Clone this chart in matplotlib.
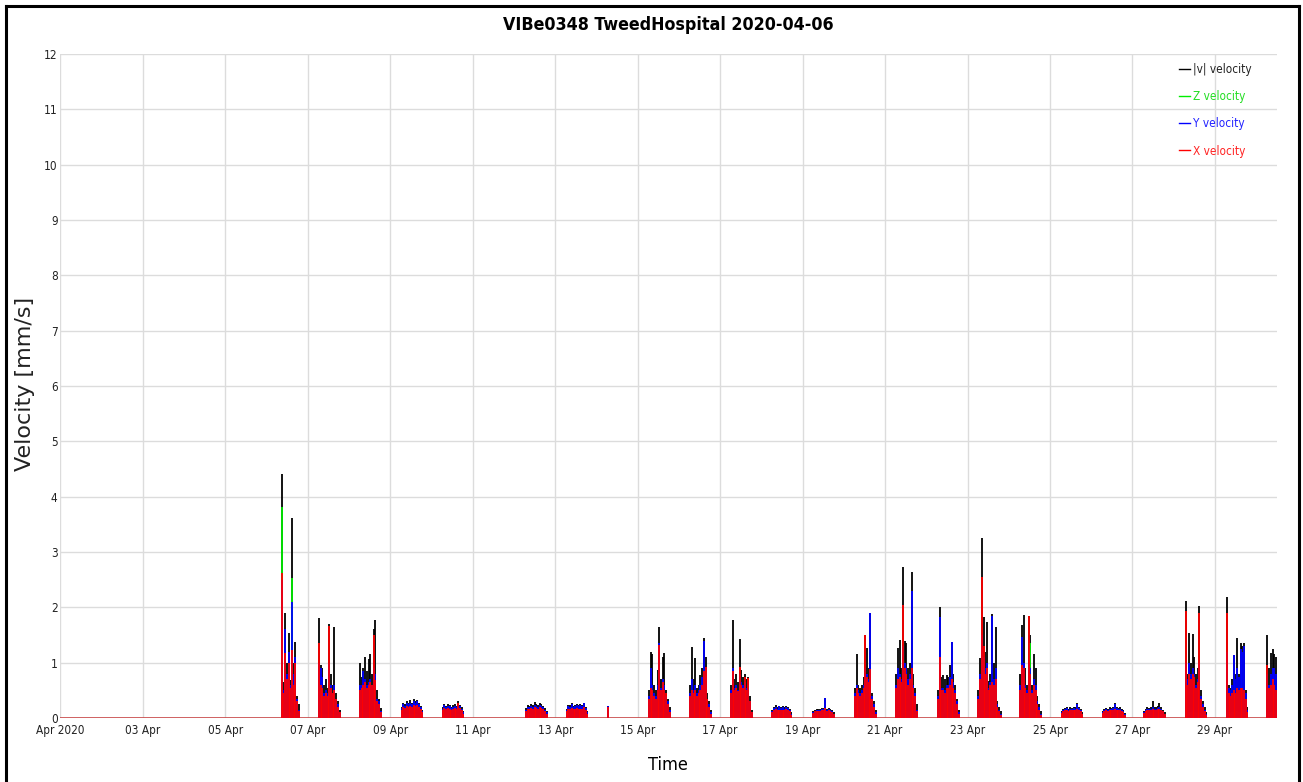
import numpy as np
import pandas as pd
import matplotlib
matplotlib.use('Agg')
import matplotlib.pyplot as plt
import matplotlib.dates as mdates
from matplotlib.lines import Line2D
from matplotlib import font_manager

# start of each working-day burst; one peak reading per hour from there on
starts = ['2020-04-06 08:48', '2020-04-07 06:30', '2020-04-08 06:24', '2020-04-09 06:40',
          '2020-04-10 06:30', '2020-04-12 07:00', '2020-04-13 06:42', '2020-04-14 06:54',
          '2020-04-15 06:36', '2020-04-16 06:30', '2020-04-17 06:18', '2020-04-18 06:24',
          '2020-04-19 06:12', '2020-04-20 06:30', '2020-04-21 06:24', '2020-04-22 06:48',
          '2020-04-23 06:18', '2020-04-24 06:36', '2020-04-25 06:48', '2020-04-26 06:42',
          '2020-04-27 06:42', '2020-04-28 07:00', '2020-04-29 06:54', '2020-04-30 06:30']

v_abs = [
    [4.41, 0.65, 1.9, 1.0, 1.53, 0.68, 3.62, 1.0, 1.38, 0.4, 0.25],
    [1.8, 0.95, 0.9, 0.6, 0.7, 0.55, 1.7, 0.8, 0.6, 1.65, 0.45, 0.3, 0.15],
    [0.99, 0.75, 0.9, 1.1, 0.85, 1.07, 1.16, 0.8, 1.6, 1.77, 0.5, 0.35, 0.18],
    [0.2, 0.28, 0.25, 0.3, 0.27, 0.32, 0.28, 0.35, 0.3, 0.33, 0.27, 0.22, 0.15],
    [0.2, 0.25, 0.22, 0.26, 0.24, 0.2, 0.23, 0.25, 0.22, 0.3, 0.24, 0.2, 0.12],
    [0.18, 0.24, 0.22, 0.26, 0.24, 0.29, 0.26, 0.24, 0.27, 0.25, 0.22, 0.18, 0.12],
    [0.17, 0.24, 0.23, 0.27, 0.22, 0.24, 0.26, 0.23, 0.25, 0.24, 0.28, 0.2, 0.12],
    [0.22],
    [0.5, 1.19, 1.15, 0.6, 0.5, 0.87, 1.64, 0.7, 1.1, 1.17, 0.5, 0.35, 0.2],
    [0.6, 1.28, 0.7, 1.08, 0.55, 0.6, 0.78, 0.9, 1.44, 1.1, 0.45, 0.3, 0.15],
    [0.6, 1.78, 0.7, 0.8, 0.65, 1.42, 0.87, 0.75, 0.8, 0.7, 0.74, 0.4, 0.15],
    [0.14, 0.2, 0.23, 0.19, 0.22, 0.2, 0.21, 0.19, 0.22, 0.2, 0.16, 0.1],
    [0.12, 0.15, 0.17, 0.16, 0.17, 0.18, 0.18, 0.36, 0.17, 0.18, 0.16, 0.14, 0.1],
    [0.55, 1.15, 0.6, 0.55, 0.6, 0.75, 1.5, 1.26, 0.9, 1.9, 0.45, 0.3, 0.15],
    [0.8, 1.26, 1.41, 0.9, 2.72, 1.4, 1.35, 0.9, 1.0, 2.64, 0.8, 0.55, 0.25],
    [0.5, 2.01, 0.75, 0.78, 0.7, 0.78, 0.75, 0.95, 1.38, 0.8, 0.6, 0.35, 0.15],
    [0.5, 1.08, 3.25, 1.83, 1.2, 1.74, 0.66, 0.8, 1.88, 1.0, 1.64, 0.3, 0.2, 0.12],
    [0.8, 1.68, 1.86, 0.9, 0.6, 1.84, 1.5, 0.6, 1.16, 0.9, 0.4, 0.25, 0.12],
    [0.12, 0.17, 0.18, 0.2, 0.17, 0.19, 0.18, 0.2, 0.19, 0.27, 0.2, 0.16, 0.1],
    [0.12, 0.16, 0.18, 0.17, 0.19, 0.18, 0.2, 0.27, 0.2, 0.18, 0.19, 0.17, 0.14, 0.09],
    [0.12, 0.16, 0.2, 0.18, 0.2, 0.3, 0.2, 0.19, 0.21, 0.27, 0.2, 0.15, 0.1],
    [2.11, 0.8, 1.53, 1.0, 1.51, 1.1, 0.8, 0.9, 2.02, 0.5, 0.3, 0.2, 0.1],
    [2.19, 0.6, 0.55, 0.7, 1.14, 0.8, 1.44, 0.8, 1.35, 1.3, 1.35, 0.5, 0.2],
    [1.5, 0.9, 1.18, 1.24, 1.15, 1.1],
]

z_vel = [
    [3.82, 0.1, 0.12, 0.1, 0.1, 0.1, 2.53, 0.1, 0.1, 0.08, 0.05],
    [0.1, 0.08, 0.08, 0.07, 0.07, 0.07, 0.08, 0.08, 0.07, 0.07, 0.06, 0.05, 0.04],
    [0.1, 0.12, 0.1, 0.1, 0.1, 0.1, 0.12, 0.1, 0.1, 0.1, 0.08, 0.06, 0.05],
    [0.05, 0.07, 0.06, 0.07, 0.07, 0.08, 0.07, 0.08, 0.07, 0.07, 0.06, 0.05, 0.04],
    [0.05, 0.06, 0.06, 0.07, 0.06, 0.06, 0.06, 0.07, 0.06, 0.07, 0.06, 0.05, 0.03],
    [0.05, 0.06, 0.06, 0.07, 0.06, 0.07, 0.06, 0.06, 0.07, 0.06, 0.06, 0.05, 0.03],
    [0.05, 0.06, 0.06, 0.07, 0.06, 0.06, 0.07, 0.06, 0.06, 0.06, 0.07, 0.05, 0.03],
    [0.05],
    [0.08, 0.1, 0.12, 0.1, 0.1, 0.12, 0.12, 0.1, 0.1, 0.1, 0.08, 0.06, 0.04],
    [0.08, 0.1, 0.1, 0.1, 0.09, 0.1, 0.1, 0.11, 0.12, 0.1, 0.08, 0.06, 0.04],
    [0.08, 0.12, 0.1, 0.1, 0.09, 0.11, 0.1, 0.1, 0.1, 0.09, 0.09, 0.06, 0.04],
    [0.04, 0.05, 0.06, 0.05, 0.06, 0.05, 0.06, 0.05, 0.06, 0.05, 0.04, 0.03],
    [0.04, 0.05, 0.05, 0.05, 0.05, 0.05, 0.06, 0.05, 0.05, 0.05, 0.05, 0.04, 0.03],
    [0.08, 0.1, 0.1, 0.09, 0.1, 0.1, 0.12, 0.11, 0.1, 0.12, 0.08, 0.06, 0.04],
    [0.1, 0.12, 0.12, 0.1, 0.14, 0.12, 0.12, 0.1, 0.12, 0.14, 0.1, 0.08, 0.05],
    [0.08, 0.12, 0.1, 0.1, 0.4, 0.1, 0.1, 0.1, 0.12, 0.1, 0.08, 0.06, 0.04],
    [0.08, 0.12, 0.14, 0.12, 0.1, 0.12, 0.1, 0.1, 0.12, 0.1, 0.1, 0.06, 0.05, 0.03],
    [0.08, 0.1, 0.1, 0.1, 0.08, 0.1, 1.35, 0.1, 0.1, 0.08, 0.06, 0.05, 0.04],
    [0.04, 0.05, 0.05, 0.06, 0.05, 0.05, 0.05, 0.06, 0.05, 0.06, 0.05, 0.04, 0.03],
    [0.04, 0.05, 0.05, 0.05, 0.05, 0.05, 0.06, 0.06, 0.05, 0.05, 0.05, 0.05, 0.04, 0.03],
    [0.04, 0.05, 0.06, 0.05, 0.06, 0.06, 0.05, 0.05, 0.06, 0.06, 0.05, 0.04, 0.03],
    [0.1, 0.08, 0.1, 0.1, 0.12, 0.1, 0.1, 0.1, 0.12, 0.08, 0.06, 0.05, 0.04],
    [0.1, 0.08, 0.08, 0.1, 0.1, 0.1, 0.12, 0.1, 0.1, 0.12, 0.1, 0.06, 0.04],
    [0.1, 0.08, 0.1, 0.1, 0.12, 0.1],
]

y_vel = [
    [2.5, 0.5, 1.6, 0.8, 1.2, 0.6, 2.1, 0.8, 1.1, 0.35, 0.15],
    [1.0, 0.9, 0.75, 0.45, 0.5, 0.45, 1.0, 0.6, 0.45, 0.6, 0.35, 0.25, 0.1],
    [0.6, 0.6, 0.85, 0.7, 0.6, 0.65, 0.7, 0.6, 0.9, 0.8, 0.35, 0.3, 0.12],
    [0.18, 0.25, 0.22, 0.27, 0.25, 0.28, 0.26, 0.3, 0.27, 0.3, 0.25, 0.2, 0.12],
    [0.17, 0.23, 0.2, 0.22, 0.21, 0.18, 0.2, 0.22, 0.2, 0.24, 0.22, 0.17, 0.1],
    [0.15, 0.2, 0.19, 0.22, 0.2, 0.24, 0.22, 0.2, 0.23, 0.22, 0.19, 0.15, 0.1],
    [0.15, 0.22, 0.2, 0.26, 0.2, 0.22, 0.24, 0.21, 0.23, 0.22, 0.27, 0.18, 0.1],
    [0.22],
    [0.4, 0.9, 0.6, 0.45, 0.4, 0.6, 1.35, 0.55, 0.7, 0.6, 0.4, 0.3, 0.15],
    [0.45, 0.7, 0.5, 0.6, 0.45, 0.5, 0.6, 0.75, 1.4, 0.9, 0.35, 0.25, 0.1],
    [0.5, 0.9, 0.55, 0.6, 0.5, 0.8, 0.65, 0.6, 0.65, 0.55, 0.6, 0.3, 0.1],
    [0.12, 0.18, 0.2, 0.17, 0.21, 0.18, 0.2, 0.17, 0.2, 0.18, 0.14, 0.08],
    [0.1, 0.13, 0.15, 0.14, 0.15, 0.16, 0.16, 0.36, 0.15, 0.16, 0.14, 0.12, 0.08],
    [0.45, 0.6, 0.5, 0.45, 0.5, 0.6, 0.9, 0.8, 0.7, 1.9, 0.4, 0.25, 0.1],
    [0.6, 0.9, 0.8, 0.7, 1.3, 1.0, 0.9, 0.7, 0.8, 2.3, 0.6, 0.45, 0.15],
    [0.4, 1.83, 0.55, 0.55, 0.5, 0.6, 0.6, 0.75, 1.38, 0.65, 0.5, 0.3, 0.1],
    [0.4, 0.8, 1.5, 1.1, 0.9, 1.0, 0.55, 0.65, 1.85, 0.7, 0.9, 0.25, 0.15, 0.08],
    [0.6, 1.47, 1.0, 0.6, 0.5, 1.0, 0.9, 0.5, 0.7, 0.6, 0.3, 0.2, 0.08],
    [0.1, 0.15, 0.16, 0.18, 0.15, 0.17, 0.16, 0.18, 0.17, 0.26, 0.18, 0.14, 0.08],
    [0.1, 0.14, 0.16, 0.15, 0.17, 0.16, 0.18, 0.26, 0.18, 0.16, 0.17, 0.15, 0.12, 0.07],
    [0.1, 0.14, 0.17, 0.16, 0.17, 0.2, 0.17, 0.17, 0.18, 0.2, 0.17, 0.13, 0.08],
    [1.0, 0.7, 1.0, 0.8, 0.9, 0.8, 0.6, 0.7, 1.0, 0.4, 0.25, 0.15, 0.08],
    [1.2, 0.55, 0.5, 0.6, 1.14, 0.7, 0.9, 0.75, 1.25, 1.2, 1.3, 0.45, 0.15],
    [0.8, 0.6, 0.8, 0.9, 0.9, 0.8],
]

x_vel = [
    [2.62, 0.45, 1.17, 0.7, 1.0, 0.55, 1.23, 0.6, 1.0, 0.3, 0.12],
    [1.35, 0.6, 0.55, 0.4, 0.45, 0.4, 1.67, 0.55, 0.45, 0.5, 0.35, 0.2, 0.1],
    [0.5, 0.55, 0.6, 0.65, 0.55, 0.6, 0.65, 0.6, 1.5, 0.68, 0.3, 0.25, 0.1],
    [0.15, 0.2, 0.18, 0.22, 0.2, 0.22, 0.2, 0.24, 0.22, 0.23, 0.2, 0.16, 0.1],
    [0.14, 0.18, 0.17, 0.18, 0.17, 0.15, 0.17, 0.18, 0.17, 0.28, 0.18, 0.14, 0.08],
    [0.13, 0.17, 0.16, 0.18, 0.17, 0.2, 0.18, 0.17, 0.19, 0.18, 0.16, 0.13, 0.08],
    [0.12, 0.17, 0.16, 0.18, 0.16, 0.17, 0.18, 0.16, 0.17, 0.17, 0.19, 0.14, 0.08],
    [0.2],
    [0.35, 0.55, 0.5, 0.4, 0.35, 0.5, 1.32, 0.5, 0.65, 0.5, 0.45, 0.25, 0.1],
    [0.4, 0.5, 0.45, 0.5, 0.4, 0.45, 0.5, 0.6, 0.85, 0.93, 0.35, 0.2, 0.08],
    [0.45, 0.85, 0.5, 0.55, 0.48, 0.93, 0.6, 0.55, 0.75, 0.5, 0.72, 0.3, 0.1],
    [0.1, 0.15, 0.16, 0.14, 0.15, 0.15, 0.15, 0.14, 0.16, 0.15, 0.12, 0.06],
    [0.09, 0.12, 0.13, 0.13, 0.13, 0.14, 0.14, 0.18, 0.13, 0.14, 0.13, 0.11, 0.07],
    [0.4, 0.55, 0.45, 0.4, 0.45, 0.55, 1.5, 0.75, 0.65, 0.88, 0.35, 0.2, 0.08],
    [0.55, 0.7, 0.75, 0.65, 2.04, 0.9, 0.8, 0.6, 0.7, 0.9, 0.55, 0.4, 0.12],
    [0.35, 1.1, 0.5, 0.5, 0.45, 0.55, 0.55, 0.6, 0.7, 0.55, 0.45, 0.25, 0.08],
    [0.35, 0.7, 2.55, 1.3, 0.8, 0.9, 0.5, 0.6, 0.65, 0.6, 0.7, 0.2, 0.12, 0.06],
    [0.5, 0.95, 0.9, 0.55, 0.45, 1.84, 0.8, 0.45, 0.6, 0.5, 0.25, 0.15, 0.06],
    [0.09, 0.13, 0.14, 0.15, 0.13, 0.14, 0.14, 0.15, 0.14, 0.16, 0.15, 0.12, 0.07],
    [0.09, 0.12, 0.14, 0.13, 0.14, 0.14, 0.15, 0.17, 0.15, 0.14, 0.14, 0.13, 0.11, 0.06],
    [0.09, 0.13, 0.15, 0.14, 0.15, 0.17, 0.15, 0.14, 0.16, 0.16, 0.15, 0.12, 0.07],
    [1.93, 0.6, 0.8, 0.7, 0.8, 0.75, 0.55, 0.65, 1.9, 0.35, 0.2, 0.12, 0.06],
    [1.9, 0.45, 0.4, 0.45, 0.5, 0.45, 0.55, 0.5, 0.55, 0.55, 0.5, 0.35, 0.1],
    [0.95, 0.55, 0.6, 0.7, 0.6, 0.5],
]

tick_days = ['2020-04-01', '2020-04-03', '2020-04-05', '2020-04-07', '2020-04-09',
             '2020-04-11', '2020-04-13', '2020-04-15', '2020-04-17', '2020-04-19',
             '2020-04-21', '2020-04-23', '2020-04-25', '2020-04-27', '2020-04-29']
tick_labels = ['Apr 2020', '03 Apr', '05 Apr', '07 Apr', '09 Apr', '11 Apr', '13 Apr',
               '15 Apr', '17 Apr', '19 Apr', '21 Apr', '23 Apr', '25 Apr', '27 Apr', '29 Apr']
t_first = '2020-04-01 00:00'
t_last = '2020-04-30 12:00'

names = ['|v| velocity', 'Z velocity', 'Y velocity', 'X velocity']
colors = ['#000000', '#00ee00', '#0000ff', '#ff0000']
series = [v_abs, z_vel, y_vel, x_vel]


# the screenshot is squeezed sideways, so a condensed face fits the flat text best
def narrow_font():
    fonts = font_manager.fontManager.ttflist
    for want in ['Liberation Sans Narrow', 'DejaVu Sans', 'Roboto Condensed', 'Open Sans']:
        for f in fonts:
            if f.name == want and (f.stretch in ('condensed', 'semi-condensed', 'extra-condensed')
                                   or 'Condensed' in f.fname or 'Narrow' in f.fname):
                return {'family': f.name, 'stretch': f.stretch if f.stretch != 'normal' else 'condensed'}
    return {'family': 'DejaVu Sans', 'stretch': 'normal'}


nf = narrow_font()
cond_scale = 1.0 if nf['stretch'] != 'normal' else 0.85


def burst_times(i):
    n = len(v_abs[i])
    for s in series:
        assert len(s[i]) == n
    return pd.date_range(starts[i], periods=n, freq='h')


times = np.concatenate([mdates.date2num(burst_times(i).to_pydatetime()) for i in range(len(starts))])

W, H = 1303, 782
fig = plt.figure(figsize=(W / 100, H / 100), dpi=100)
ax = fig.add_axes([60.4 / W, 64 / H, (1276.8 - 60.4) / W, 664 / H])

ax.grid(True, color='#dcdcdc', lw=1)
ax.set_axisbelow(True)
ax.axhline(0, color='#c84848', lw=1.2, zorder=1)

for s, name, c in zip(series, names, colors):
    vals = np.concatenate(s)
    ax.vlines(times, 0, vals, colors=c, lw=1.3, label=name, zorder=2)

ax.set_xlim(mdates.datestr2num(t_first), mdates.datestr2num(t_last))
ax.set_ylim(0, 12)
ax.set_yticks(range(0, 13))
ax.set_xticks(mdates.datestr2num(tick_days))
ax.set_xticklabels(tick_labels)
for sp in ax.spines.values():
    sp.set_visible(False)
ax.tick_params(length=0, labelsize=8.5 * cond_scale, colors='#222222')
ax.tick_params(axis='x', pad=4)
ax.tick_params(axis='y', pad=2)
for lab in ax.get_xticklabels() + ax.get_yticklabels():
    lab.set_family(nf['family'])
    lab.set_stretch(nf['stretch'])

handles = [Line2D([], [], color=c, lw=1) for c in colors]
leg = ax.legend(handles, names, loc='upper right', frameon=False,
                bbox_to_anchor=(1252 / W, 1 - 63 / H), bbox_transform=fig.transFigure,
                borderaxespad=0, borderpad=0, handlelength=0.9, handletextpad=0.3,
                labelspacing=1.2,
                prop=font_manager.FontProperties(family=nf['family'], stretch=nf['stretch'],
                                                 size=8.5 * cond_scale))
for txt, c in zip(leg.get_texts(), ['#222222', '#22dd22', '#2222ff', '#ff2222']):
    txt.set_color(c)

fig.text(668 / W, 1 - 25 / H, 'VIBe0348 TweedHospital 2020-04-06', ha='center', va='center',
         fontsize=12.8 * cond_scale, fontweight='bold', family=nf['family'], stretch=nf['stretch'])
fig.text(668 / W, 1 - 765 / H, 'Time', ha='center', va='center', fontsize=13 * cond_scale,
         family=nf['family'], stretch=nf['stretch'])
fig.text(25 / W, 1 - 384 / H, 'Velocity [mm/s]', ha='center', va='center', rotation=90,
         fontsize=16, family='DejaVu Sans', color='#222222')

# screenshot frame
for xs, ys in [([6, 6], [0, H - 6]), ([6, 1299], [H - 6, H - 6]), ([1299, 1299], [0, H - 6])]:
    fig.add_artist(Line2D(np.array(xs) / W, np.array(ys) / H, color='black', lw=2.2,
                          transform=fig.transFigure))

fig.savefig('out.png', dpi=100)
